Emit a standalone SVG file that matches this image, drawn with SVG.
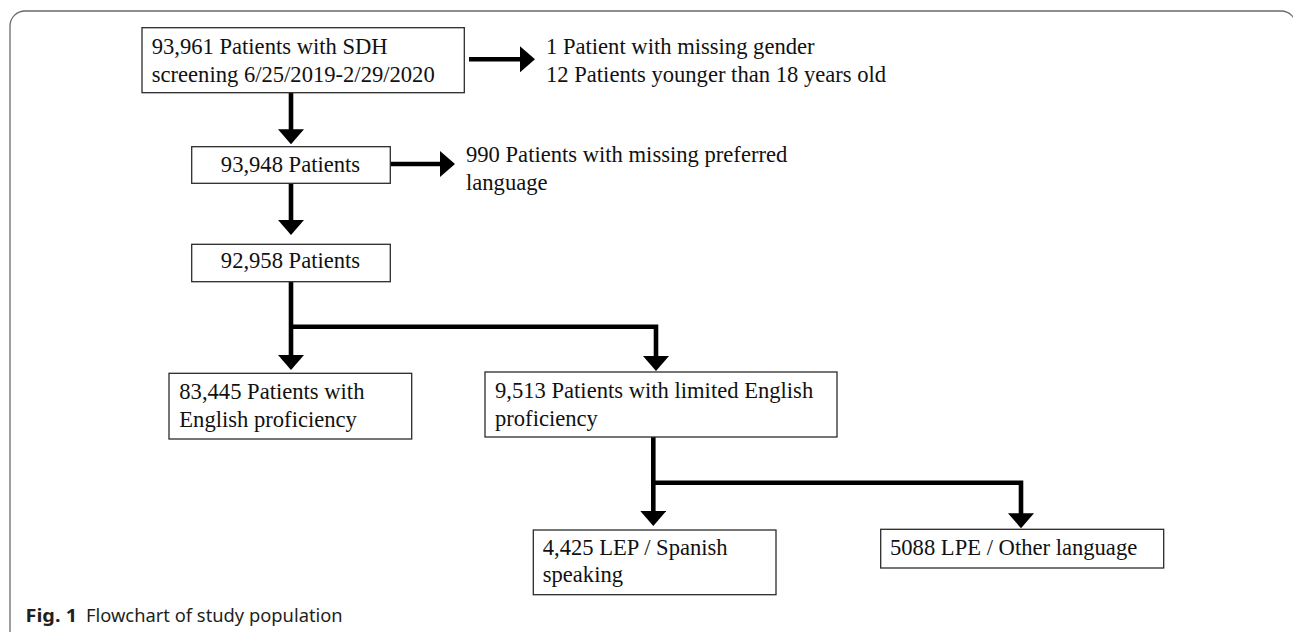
<svg xmlns="http://www.w3.org/2000/svg" width="1293" height="632" viewBox="0 0 1293 632">
  <style>
    .box { fill: #ffffff; stroke: #2b2b2b; stroke-width: 1.3; }
    .t { font-family: "Liberation Serif", "Times New Roman", serif; font-size: 22.6px; fill: #111111; }
    .tc { text-anchor: middle; }
    .conn { fill: none; stroke: #000000; stroke-width: 4.6; stroke-linejoin: miter; }
    .frame { fill: none; stroke: #6a6a6a; stroke-width: 1.3; }
    .cap { font-family: "Noto Sans", "Open Sans", sans-serif; font-size: 17.3px; fill: #231f20; }
    .capb { font-weight: bold; }
  </style>
  <defs>
    <marker id="ah" markerUnits="userSpaceOnUse" viewBox="0 0 15 26" refX="3" refY="13" markerWidth="15" markerHeight="26" orient="auto">
      <path d="M0,0 L15,13 L0,26 Z" fill="#000000"/>
    </marker>
  </defs>

  <rect class="frame" x="10" y="11" width="1286" height="636" rx="15" ry="15"/>

  <g id="connectors">
    <path class="conn" d="M291,92.7 V132.3" marker-end="url(#ah)"/>
    <path class="conn" d="M469,59.3 H523" marker-end="url(#ah)"/>
    <path class="conn" d="M390.3,164 H443" marker-end="url(#ah)"/>
    <path class="conn" d="M291,183.3 V223" marker-end="url(#ah)"/>
    <path class="conn" d="M291,281.7 V358" marker-end="url(#ah)"/>
    <path class="conn" d="M291,326.7 H656 V359" marker-end="url(#ah)"/>
    <path class="conn" d="M653.3,437 V514" marker-end="url(#ah)"/>
    <path class="conn" d="M653.3,482.7 H1021 V516.3" marker-end="url(#ah)"/>
  </g>

  <g id="n-start">
    <rect class="box" x="142" y="27.7" width="322.3" height="65"/>
    <text class="t" x="151.7" y="54.3">93,961 Patients with SDH</text>
    <text class="t" x="151.7" y="82.3">screening 6/25/2019-2/29/2020</text>
  </g>

  <g id="n-excl1">
    <text class="t" x="546" y="54.3">1 Patient with missing gender</text>
    <text class="t" x="546" y="82.3">12 Patients younger than 18 years old</text>
  </g>

  <g id="n-93948">
    <rect class="box" x="191.7" y="146.7" width="198.6" height="36.6"/>
    <text class="t tc" x="290.5" y="171.7">93,948 Patients</text>
  </g>

  <g id="n-excl2">
    <text class="t" x="466" y="161.7">990 Patients with missing preferred</text>
    <text class="t" x="466" y="189.5">language</text>
  </g>

  <g id="n-92958">
    <rect class="box" x="191.7" y="244.3" width="198.6" height="37.4"/>
    <text class="t tc" x="290.5" y="268.3">92,958 Patients</text>
  </g>

  <g id="n-english">
    <rect class="box" x="169" y="373.3" width="242.7" height="65.7"/>
    <text class="t" x="179.3" y="399">83,445 Patients with</text>
    <text class="t" x="179.3" y="426.7">English proficiency</text>
  </g>

  <g id="n-lep">
    <rect class="box" x="485" y="372" width="352" height="65"/>
    <text class="t" x="495" y="398.3">9,513 Patients with limited English</text>
    <text class="t" x="495" y="425.7">proficiency</text>
  </g>

  <g id="n-spanish">
    <rect class="box" x="533.3" y="530" width="242.7" height="64.7"/>
    <text class="t" x="542.7" y="555">4,425 LEP / Spanish</text>
    <text class="t" x="542.7" y="582">speaking</text>
  </g>

  <g id="n-other">
    <rect class="box" x="880.7" y="529.3" width="283" height="38.7"/>
    <text class="t" x="890" y="555">5088 LPE / Other language</text>
  </g>

  <g id="caption">
    <text class="cap capb" x="25.5" y="622" textLength="51.5" lengthAdjust="spacingAndGlyphs">Fig. 1</text>
    <text class="cap" x="86" y="622" textLength="256.7" lengthAdjust="spacingAndGlyphs">Flowchart of study population</text>
  </g>
</svg>
